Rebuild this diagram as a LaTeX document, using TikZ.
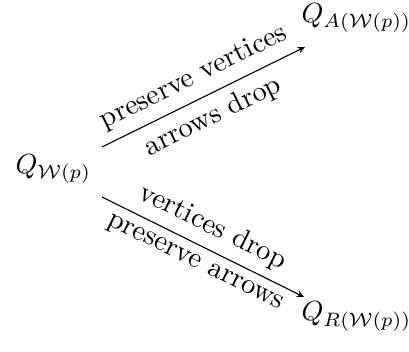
\documentclass[tikz,border=0pt]{standalone}
\usetikzlibrary{arrows.meta,calc}
\tikzset{
  obj/.style={inner sep=0pt, anchor=base west},
  map/.style={-{Stealth[length=2.6pt,width=2.4pt]}, line width=0.4pt},
  lab/.style={sloped, midway, inner sep=3.2pt, font=\fontsize{10.3}{12}\selectfont}
}
\begin{document}
\begin{tikzpicture}[x=0.361pt,y=-0.361pt]
\useasboundingbox (0,0) rectangle (409,352);
\node[obj] (w) at (15,174) {$Q_{\mathcal{W}(p)}$};
\node[obj] (a) at (301,23) {$Q_{A(\mathcal{W}(p))}$};
\node[obj] (r) at (301,321) {$Q_{R(\mathcal{W}(p))}$};
\draw[map] ($(w.base west)+(87,-27)$) -- ($(a.base west)+(4,24)$)
  node[lab, above] {preserve vertices}
  node[lab, below] {arrows drop};
\draw[map] ($(w.base west)+(87,23)$) -- ($(r.base west)+(3,-24)$)
  node[lab, above] {vertices drop}
  node[lab, below] {preserve arrows};
\end{tikzpicture}
\end{document}
